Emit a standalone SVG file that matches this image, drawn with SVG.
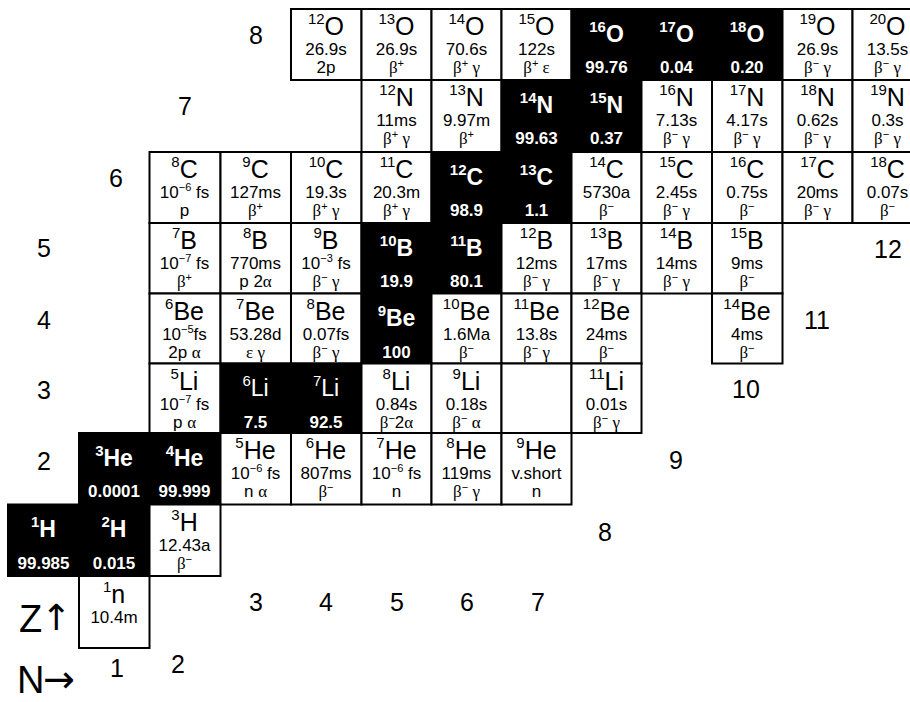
<svg xmlns="http://www.w3.org/2000/svg" width="910" height="702" viewBox="0 0 910 702">
<style>
text{font-family:"Liberation Sans",Arial,sans-serif;text-anchor:middle;fill:#000}
rect.c{fill:#fff;stroke:#000;stroke-width:2}
rect.k{fill:#000;stroke:#000;stroke-width:2}
.s{font-size:25px}
.sw{font-size:23px;font-weight:bold;fill:#fff}
.sn{font-weight:normal}
.sp{font-size:15px}
.h{font-size:17px}
.d{font-size:17px}
.g{font-family:"Liberation Serif","Times New Roman",serif;font-size:17px}
.e{font-size:11px}
.a{font-size:17px;font-weight:bold;fill:#fff}
.l{font-size:25px}
.big{font-size:38px;text-anchor:start}
.arr{font-family:"DejaVu Sans",sans-serif;text-anchor:start}
</style>
<rect width="910" height="702" fill="#fff"/>
<g id="cells">
<!-- Z=8 -->
<g id="O12" transform="translate(291,9)"><rect class="c" width="70.5" height="71"/><text class="s" x="35" y="26"><tspan class="sp" dy="-11">12</tspan><tspan dy="11">O</tspan></text><text class="h" x="35" y="46">26.9s</text><text class="d" x="35" y="64">2p</text></g>
<g id="O13" transform="translate(361.5,9)"><rect class="c" width="70" height="71"/><text class="s" x="35" y="26"><tspan class="sp" dy="-11">13</tspan><tspan dy="11">O</tspan></text><text class="h" x="35" y="46">26.9s</text><text class="d" x="35" y="64"><tspan class="g">β</tspan><tspan class="e" dy="-6">+</tspan></text></g>
<g id="O14" transform="translate(431.5,9)"><rect class="c" width="70" height="71"/><text class="s" x="35" y="26"><tspan class="sp" dy="-11">14</tspan><tspan dy="11">O</tspan></text><text class="h" x="35" y="46">70.6s</text><text class="d" x="35" y="64"><tspan class="g">β</tspan><tspan class="e" dy="-6">+</tspan><tspan class="g" dy="6"> γ</tspan></text></g>
<g id="O15" transform="translate(501.5,9)"><rect class="c" width="70" height="71"/><text class="s" x="35" y="26"><tspan class="sp" dy="-11">15</tspan><tspan dy="11">O</tspan></text><text class="h" x="35" y="46">122s</text><text class="d" x="35" y="64"><tspan class="g">β</tspan><tspan class="e" dy="-6">+</tspan><tspan class="g" dy="6"> ε</tspan></text></g>
<g id="O16" transform="translate(571.5,9)"><rect class="k" width="70" height="71"/><text class="sw" x="35" y="32.5"><tspan class="sp" dy="-10">16</tspan><tspan dy="10">O</tspan></text><text class="a" x="35" y="64">99.76</text></g>
<g id="O17" transform="translate(641.5,9)"><rect class="k" width="70.5" height="71"/><text class="sw" x="35" y="32.5"><tspan class="sp" dy="-10">17</tspan><tspan dy="10">O</tspan></text><text class="a" x="35" y="64">0.04</text></g>
<g id="O18" transform="translate(712,9)"><rect class="k" width="70.5" height="71"/><text class="sw" x="35" y="32.5"><tspan class="sp" dy="-10">18</tspan><tspan dy="10">O</tspan></text><text class="a" x="35" y="64">0.20</text></g>
<g id="O19" transform="translate(782.5,9)"><rect class="c" width="70" height="71"/><text class="s" x="35" y="26"><tspan class="sp" dy="-11">19</tspan><tspan dy="11">O</tspan></text><text class="h" x="35" y="46">26.9s</text><text class="d" x="35" y="64"><tspan class="g">β</tspan><tspan class="e" dy="-6">−</tspan><tspan class="g" dy="6"> γ</tspan></text></g>
<g id="O20" transform="translate(852.5,9)"><rect class="c" width="70.5" height="71"/><text class="s" x="35" y="26"><tspan class="sp" dy="-11">20</tspan><tspan dy="11">O</tspan></text><text class="h" x="35" y="46">13.5s</text><text class="d" x="35" y="64"><tspan class="g">β</tspan><tspan class="e" dy="-6">−</tspan><tspan class="g" dy="6"> γ</tspan></text></g>
<!-- Z=7 -->
<g id="N12" transform="translate(361.5,80)"><rect class="c" width="70" height="72"/><text class="s" x="35" y="26"><tspan class="sp" dy="-11">12</tspan><tspan dy="11">N</tspan></text><text class="h" x="35" y="46">11ms</text><text class="d" x="35" y="64"><tspan class="g">β</tspan><tspan class="e" dy="-6">+</tspan><tspan class="g" dy="6"> γ</tspan></text></g>
<g id="N13" transform="translate(431.5,80)"><rect class="c" width="70" height="72"/><text class="s" x="35" y="26"><tspan class="sp" dy="-11">13</tspan><tspan dy="11">N</tspan></text><text class="h" x="35" y="46">9.97m</text><text class="d" x="35" y="64"><tspan class="g">β</tspan><tspan class="e" dy="-6">+</tspan></text></g>
<g id="N14" transform="translate(501.5,80)"><rect class="k" width="70" height="72"/><text class="sw" x="35" y="32.5"><tspan class="sp" dy="-10">14</tspan><tspan dy="10">N</tspan></text><text class="a" x="35" y="64">99.63</text></g>
<g id="N15" transform="translate(571.5,80)"><rect class="k" width="70" height="72"/><text class="sw" x="35" y="32.5"><tspan class="sp" dy="-10">15</tspan><tspan dy="10">N</tspan></text><text class="a" x="35" y="64">0.37</text></g>
<g id="N16" transform="translate(641.5,80)"><rect class="c" width="70.5" height="72"/><text class="s" x="35" y="26"><tspan class="sp" dy="-11">16</tspan><tspan dy="11">N</tspan></text><text class="h" x="35" y="46">7.13s</text><text class="d" x="35" y="64"><tspan class="g">β</tspan><tspan class="e" dy="-6">−</tspan><tspan class="g" dy="6"> γ</tspan></text></g>
<g id="N17" transform="translate(712,80)"><rect class="c" width="70.5" height="72"/><text class="s" x="35" y="26"><tspan class="sp" dy="-11">17</tspan><tspan dy="11">N</tspan></text><text class="h" x="35" y="46">4.17s</text><text class="d" x="35" y="64"><tspan class="g">β</tspan><tspan class="e" dy="-6">−</tspan><tspan class="g" dy="6"> γ</tspan></text></g>
<g id="N18" transform="translate(782.5,80)"><rect class="c" width="70" height="72"/><text class="s" x="35" y="26"><tspan class="sp" dy="-11">18</tspan><tspan dy="11">N</tspan></text><text class="h" x="35" y="46">0.62s</text><text class="d" x="35" y="64"><tspan class="g">β</tspan><tspan class="e" dy="-6">−</tspan><tspan class="g" dy="6"> γ</tspan></text></g>
<g id="N19" transform="translate(852.5,80)"><rect class="c" width="70.5" height="72"/><text class="s" x="35" y="26"><tspan class="sp" dy="-11">19</tspan><tspan dy="11">N</tspan></text><text class="h" x="35" y="46">0.3s</text><text class="d" x="35" y="64"><tspan class="g">β</tspan><tspan class="e" dy="-6">−</tspan><tspan class="g" dy="6"> γ</tspan></text></g>
<!-- Z=6 -->
<g id="C8" transform="translate(149.5,152)"><rect class="c" width="71" height="71"/><text class="s" x="35" y="26"><tspan class="sp" dy="-11">8</tspan><tspan dy="11">C</tspan></text><text class="h" x="35" y="46">10<tspan class="e" dy="-7">−6</tspan><tspan dy="7"> fs</tspan></text><text class="d" x="35" y="64">p</text></g>
<g id="C9" transform="translate(220.5,152)"><rect class="c" width="70.5" height="71"/><text class="s" x="35" y="26"><tspan class="sp" dy="-11">9</tspan><tspan dy="11">C</tspan></text><text class="h" x="35" y="46">127ms</text><text class="d" x="35" y="64"><tspan class="g">β</tspan><tspan class="e" dy="-6">+</tspan></text></g>
<g id="C10" transform="translate(291,152)"><rect class="c" width="70.5" height="71"/><text class="s" x="35" y="26"><tspan class="sp" dy="-11">10</tspan><tspan dy="11">C</tspan></text><text class="h" x="35" y="46">19.3s</text><text class="d" x="35" y="64"><tspan class="g">β</tspan><tspan class="e" dy="-6">+</tspan><tspan class="g" dy="6"> γ</tspan></text></g>
<g id="C11" transform="translate(361.5,152)"><rect class="c" width="70" height="71"/><text class="s" x="35" y="26"><tspan class="sp" dy="-11">11</tspan><tspan dy="11">C</tspan></text><text class="h" x="35" y="46">20.3m</text><text class="d" x="35" y="64"><tspan class="g">β</tspan><tspan class="e" dy="-6">+</tspan><tspan class="g" dy="6"> γ</tspan></text></g>
<g id="C12" transform="translate(431.5,152)"><rect class="k" width="70" height="71"/><text class="sw" x="35" y="32.5"><tspan class="sp" dy="-10">12</tspan><tspan dy="10">C</tspan></text><text class="a" x="35" y="64">98.9</text></g>
<g id="C13" transform="translate(501.5,152)"><rect class="k" width="70" height="71"/><text class="sw" x="35" y="32.5"><tspan class="sp" dy="-10">13</tspan><tspan dy="10">C</tspan></text><text class="a" x="35" y="64">1.1</text></g>
<g id="C14" transform="translate(571.5,152)"><rect class="c" width="70" height="71"/><text class="s" x="35" y="26"><tspan class="sp" dy="-11">14</tspan><tspan dy="11">C</tspan></text><text class="h" x="35" y="46">5730a</text><text class="d" x="35" y="64"><tspan class="g">β</tspan><tspan class="e" dy="-6">−</tspan></text></g>
<g id="C15" transform="translate(641.5,152)"><rect class="c" width="70.5" height="71"/><text class="s" x="35" y="26"><tspan class="sp" dy="-11">15</tspan><tspan dy="11">C</tspan></text><text class="h" x="35" y="46">2.45s</text><text class="d" x="35" y="64"><tspan class="g">β</tspan><tspan class="e" dy="-6">−</tspan><tspan class="g" dy="6"> γ</tspan></text></g>
<g id="C16" transform="translate(712,152)"><rect class="c" width="70.5" height="71"/><text class="s" x="35" y="26"><tspan class="sp" dy="-11">16</tspan><tspan dy="11">C</tspan></text><text class="h" x="35" y="46">0.75s</text><text class="d" x="35" y="64"><tspan class="g">β</tspan><tspan class="e" dy="-6">−</tspan></text></g>
<g id="C17" transform="translate(782.5,152)"><rect class="c" width="70" height="71"/><text class="s" x="35" y="26"><tspan class="sp" dy="-11">17</tspan><tspan dy="11">C</tspan></text><text class="h" x="35" y="46">20ms</text><text class="d" x="35" y="64"><tspan class="g">β</tspan><tspan class="e" dy="-6">−</tspan><tspan class="g" dy="6"> γ</tspan></text></g>
<g id="C18" transform="translate(852.5,152)"><rect class="c" width="70.5" height="71"/><text class="s" x="35" y="26"><tspan class="sp" dy="-11">18</tspan><tspan dy="11">C</tspan></text><text class="h" x="35" y="46">0.07s</text><text class="d" x="35" y="64"><tspan class="g">β</tspan><tspan class="e" dy="-6">−</tspan></text></g>
<!-- Z=5 -->
<g id="B7" transform="translate(149.5,223)"><rect class="c" width="71" height="70.5"/><text class="s" x="35" y="26"><tspan class="sp" dy="-11">7</tspan><tspan dy="11">B</tspan></text><text class="h" x="35" y="46">10<tspan class="e" dy="-7">−7</tspan><tspan dy="7"> fs</tspan></text><text class="d" x="35" y="64"><tspan class="g">β</tspan><tspan class="e" dy="-6">+</tspan></text></g>
<g id="B8" transform="translate(220.5,223)"><rect class="c" width="70.5" height="70.5"/><text class="s" x="35" y="26"><tspan class="sp" dy="-11">8</tspan><tspan dy="11">B</tspan></text><text class="h" x="35" y="46">770ms</text><text class="d" x="35" y="64">p 2<tspan class="g">α</tspan></text></g>
<g id="B9" transform="translate(291,223)"><rect class="c" width="70.5" height="70.5"/><text class="s" x="35" y="26"><tspan class="sp" dy="-11">9</tspan><tspan dy="11">B</tspan></text><text class="h" x="35" y="46">10<tspan class="e" dy="-7">−3</tspan><tspan dy="7"> fs</tspan></text><text class="d" x="35" y="64"><tspan class="g">β</tspan><tspan class="e" dy="-6">−</tspan><tspan class="g" dy="6"> γ</tspan></text></g>
<g id="B10" transform="translate(361.5,223)"><rect class="k" width="70" height="70.5"/><text class="sw" x="35" y="32.5"><tspan class="sp" dy="-10">10</tspan><tspan dy="10">B</tspan></text><text class="a" x="35" y="64">19.9</text></g>
<g id="B11" transform="translate(431.5,223)"><rect class="k" width="70" height="70.5"/><text class="sw" x="35" y="32.5"><tspan class="sp" dy="-10">11</tspan><tspan dy="10">B</tspan></text><text class="a" x="35" y="64">80.1</text></g>
<g id="B12" transform="translate(501.5,223)"><rect class="c" width="70" height="70.5"/><text class="s" x="35" y="26"><tspan class="sp" dy="-11">12</tspan><tspan dy="11">B</tspan></text><text class="h" x="35" y="46">12ms</text><text class="d" x="35" y="64"><tspan class="g">β</tspan><tspan class="e" dy="-6">−</tspan><tspan class="g" dy="6"> γ</tspan></text></g>
<g id="B13" transform="translate(571.5,223)"><rect class="c" width="70" height="70.5"/><text class="s" x="35" y="26"><tspan class="sp" dy="-11">13</tspan><tspan dy="11">B</tspan></text><text class="h" x="35" y="46">17ms</text><text class="d" x="35" y="64"><tspan class="g">β</tspan><tspan class="e" dy="-6">−</tspan><tspan class="g" dy="6"> γ</tspan></text></g>
<g id="B14" transform="translate(641.5,223)"><rect class="c" width="70.5" height="70.5"/><text class="s" x="35" y="26"><tspan class="sp" dy="-11">14</tspan><tspan dy="11">B</tspan></text><text class="h" x="35" y="46">14ms</text><text class="d" x="35" y="64"><tspan class="g">β</tspan><tspan class="e" dy="-6">−</tspan><tspan class="g" dy="6"> γ</tspan></text></g>
<g id="B15" transform="translate(712,223)"><rect class="c" width="70.5" height="70.5"/><text class="s" x="35" y="26"><tspan class="sp" dy="-11">15</tspan><tspan dy="11">B</tspan></text><text class="h" x="35" y="46">9ms</text><text class="d" x="35" y="64"><tspan class="g">β</tspan><tspan class="e" dy="-6">−</tspan></text></g>
<!-- Z=4 -->
<g id="Be6" transform="translate(149.5,293.5)"><rect class="c" width="71" height="70"/><text class="s" x="35" y="26"><tspan class="sp" dy="-11">6</tspan><tspan dy="11">Be</tspan></text><text class="h" x="35" y="46">10<tspan class="e" dy="-7">−5</tspan><tspan dy="7">fs</tspan></text><text class="d" x="35" y="64">2p <tspan class="g">α</tspan></text></g>
<g id="Be7" transform="translate(220.5,293.5)"><rect class="c" width="70.5" height="70"/><text class="s" x="35" y="26"><tspan class="sp" dy="-11">7</tspan><tspan dy="11">Be</tspan></text><text class="h" x="35" y="46">53.28d</text><text class="d" x="35" y="64"><tspan class="g">ε γ</tspan></text></g>
<g id="Be8" transform="translate(291,293.5)"><rect class="c" width="70.5" height="70"/><text class="s" x="35" y="26"><tspan class="sp" dy="-11">8</tspan><tspan dy="11">Be</tspan></text><text class="h" x="35" y="46">0.07fs</text><text class="d" x="35" y="64"><tspan class="g">β</tspan><tspan class="e" dy="-6">−</tspan><tspan class="g" dy="6"> γ</tspan></text></g>
<g id="Be9" transform="translate(361.5,293.5)"><rect class="k" width="70" height="70"/><text class="sw" x="35" y="32.5"><tspan class="sp" dy="-10">9</tspan><tspan dy="10">Be</tspan></text><text class="a" x="35" y="64">100</text></g>
<g id="Be10" transform="translate(431.5,293.5)"><rect class="c" width="70" height="70"/><text class="s" x="35" y="26"><tspan class="sp" dy="-11">10</tspan><tspan dy="11">Be</tspan></text><text class="h" x="35" y="46">1.6Ma</text><text class="d" x="35" y="64"><tspan class="g">β</tspan><tspan class="e" dy="-6">−</tspan></text></g>
<g id="Be11" transform="translate(501.5,293.5)"><rect class="c" width="70" height="70"/><text class="s" x="35" y="26"><tspan class="sp" dy="-11">11</tspan><tspan dy="11">Be</tspan></text><text class="h" x="35" y="46">13.8s</text><text class="d" x="35" y="64"><tspan class="g">β</tspan><tspan class="e" dy="-6">−</tspan><tspan class="g" dy="6"> γ</tspan></text></g>
<g id="Be12" transform="translate(571.5,293.5)"><rect class="c" width="70" height="70"/><text class="s" x="35" y="26"><tspan class="sp" dy="-11">12</tspan><tspan dy="11">Be</tspan></text><text class="h" x="35" y="46">24ms</text><text class="d" x="35" y="64"><tspan class="g">β</tspan><tspan class="e" dy="-6">−</tspan></text></g>
<g id="Be14" transform="translate(712,293.5)"><rect class="c" width="70.5" height="70"/><text class="s" x="35" y="26"><tspan class="sp" dy="-11">14</tspan><tspan dy="11">Be</tspan></text><text class="h" x="35" y="46">4ms</text><text class="d" x="35" y="64"><tspan class="g">β</tspan><tspan class="e" dy="-6">−</tspan></text></g>
<!-- Z=3 -->
<g id="Li5" transform="translate(149.5,363.5)"><rect class="c" width="71" height="69.5"/><text class="s" x="35" y="26"><tspan class="sp" dy="-11">5</tspan><tspan dy="11">Li</tspan></text><text class="h" x="35" y="46">10<tspan class="e" dy="-7">−7</tspan><tspan dy="7"> fs</tspan></text><text class="d" x="35" y="64">p <tspan class="g">α</tspan></text></g>
<g id="Li6" transform="translate(220.5,363.5)"><rect class="k" width="70.5" height="69.5"/><text class="sw sn" x="35" y="32.5"><tspan class="sp" dy="-10">6</tspan><tspan dy="10">Li</tspan></text><text class="a" x="35" y="64">7.5</text></g>
<g id="Li7" transform="translate(291,363.5)"><rect class="k" width="70.5" height="69.5"/><text class="sw sn" x="35" y="32.5"><tspan class="sp" dy="-10">7</tspan><tspan dy="10">Li</tspan></text><text class="a" x="35" y="64">92.5</text></g>
<g id="Li8" transform="translate(361.5,363.5)"><rect class="c" width="70" height="69.5"/><text class="s" x="35" y="26"><tspan class="sp" dy="-11">8</tspan><tspan dy="11">Li</tspan></text><text class="h" x="35" y="46">0.84s</text><text class="d" x="35" y="64"><tspan class="g">β</tspan><tspan class="e" dy="-6">−</tspan><tspan dy="6">2</tspan><tspan class="g">α</tspan></text></g>
<g id="Li9" transform="translate(431.5,363.5)"><rect class="c" width="70" height="69.5"/><text class="s" x="35" y="26"><tspan class="sp" dy="-11">9</tspan><tspan dy="11">Li</tspan></text><text class="h" x="35" y="46">0.18s</text><text class="d" x="35" y="64"><tspan class="g">β</tspan><tspan class="e" dy="-6">−</tspan><tspan class="g" dy="6"> α</tspan></text></g>
<g id="Li10" transform="translate(501.5,363.5)"><rect class="c" width="70" height="69.5"/></g>
<g id="Li11" transform="translate(571.5,363.5)"><rect class="c" width="70" height="69.5"/><text class="s" x="35" y="26"><tspan class="sp" dy="-11">11</tspan><tspan dy="11">Li</tspan></text><text class="h" x="35" y="46">0.01s</text><text class="d" x="35" y="64"><tspan class="g">β</tspan><tspan class="e" dy="-6">−</tspan><tspan class="g" dy="6"> γ</tspan></text></g>
<!-- Z=2 -->
<g id="He3" transform="translate(79,433)"><rect class="k" width="70.5" height="71.5"/><text class="sw" x="35" y="32.5"><tspan class="sp" dy="-10">3</tspan><tspan dy="10">He</tspan></text><text class="a" x="35" y="64">0.0001</text></g>
<g id="He4" transform="translate(149.5,433)"><rect class="k" width="71" height="71.5"/><text class="sw" x="35" y="32.5"><tspan class="sp" dy="-10">4</tspan><tspan dy="10">He</tspan></text><text class="a" x="35" y="64">99.999</text></g>
<g id="He5" transform="translate(220.5,433)"><rect class="c" width="70.5" height="71.5"/><text class="s" x="35" y="26"><tspan class="sp" dy="-11">5</tspan><tspan dy="11">He</tspan></text><text class="h" x="35" y="46">10<tspan class="e" dy="-7">−6</tspan><tspan dy="7"> fs</tspan></text><text class="d" x="35" y="64">n <tspan class="g">α</tspan></text></g>
<g id="He6" transform="translate(291,433)"><rect class="c" width="70.5" height="71.5"/><text class="s" x="35" y="26"><tspan class="sp" dy="-11">6</tspan><tspan dy="11">He</tspan></text><text class="h" x="35" y="46">807ms</text><text class="d" x="35" y="64"><tspan class="g">β</tspan><tspan class="e" dy="-6">−</tspan></text></g>
<g id="He7" transform="translate(361.5,433)"><rect class="c" width="70" height="71.5"/><text class="s" x="35" y="26"><tspan class="sp" dy="-11">7</tspan><tspan dy="11">He</tspan></text><text class="h" x="35" y="46">10<tspan class="e" dy="-7">−6</tspan><tspan dy="7"> fs</tspan></text><text class="d" x="35" y="64">n</text></g>
<g id="He8" transform="translate(431.5,433)"><rect class="c" width="70" height="71.5"/><text class="s" x="35" y="26"><tspan class="sp" dy="-11">8</tspan><tspan dy="11">He</tspan></text><text class="h" x="35" y="46">119ms</text><text class="d" x="35" y="64"><tspan class="g">β</tspan><tspan class="e" dy="-6">−</tspan><tspan class="g" dy="6"> γ</tspan></text></g>
<g id="He9" transform="translate(501.5,433)"><rect class="c" width="70" height="71.5"/><text class="s" x="35" y="26"><tspan class="sp" dy="-11">9</tspan><tspan dy="11">He</tspan></text><text class="h" x="35" y="46">v.short</text><text class="d" x="35" y="64">n</text></g>
<!-- Z=1 -->
<g id="H1" transform="translate(8,504.5)"><rect class="k" width="71" height="71.5"/><text class="sw" x="35.5" y="32.5"><tspan class="sp" dy="-10">1</tspan><tspan dy="10">H</tspan></text><text class="a" x="35.5" y="64">99.985</text></g>
<g id="H2" transform="translate(79,504.5)"><rect class="k" width="70.5" height="71.5"/><text class="sw" x="35" y="32.5"><tspan class="sp" dy="-10">2</tspan><tspan dy="10">H</tspan></text><text class="a" x="35" y="64">0.015</text></g>
<g id="H3" transform="translate(149.5,504.5)"><rect class="c" width="71" height="71.5"/><text class="s" x="35" y="26"><tspan class="sp" dy="-11">3</tspan><tspan dy="11">H</tspan></text><text class="h" x="35" y="46">12.43a</text><text class="d" x="35" y="64"><tspan class="g">β</tspan><tspan class="e" dy="-6">−</tspan></text></g>
<!-- Z=0 -->
<g id="n1" transform="translate(79,576)"><rect class="c" width="70.5" height="72"/><text class="s" x="35" y="27"><tspan class="sp" dy="-11">1</tspan><tspan dy="11">n</tspan></text><text class="h" x="35" y="47">10.4m</text></g>
</g>
<g id="labels">
<text class="l" x="44" y="470">2</text>
<text class="l" x="44" y="399">3</text>
<text class="l" x="44" y="329">4</text>
<text class="l" x="44" y="257">5</text>
<text class="l" x="116" y="187">6</text>
<text class="l" x="185" y="115">7</text>
<text class="l" x="256" y="44">8</text>
<text class="l" x="117" y="677">1</text>
<text class="l" x="178" y="673">2</text>
<text class="l" x="256" y="611">3</text>
<text class="l" x="326" y="611">4</text>
<text class="l" x="397" y="611">5</text>
<text class="l" x="467" y="611">6</text>
<text class="l" x="538" y="611">7</text>
<text class="l" x="605" y="541">8</text>
<text class="l" x="676" y="469">9</text>
<text class="l" x="746" y="398">10</text>
<text class="l" x="817" y="329">11</text>
<text class="l" x="888" y="258">12</text>
<text class="big" x="19" y="632">Z</text>
<text class="arr" x="41" y="630" font-size="36">↑</text>
<text class="big" x="17" y="693">N</text>
<text class="arr" x="43" y="692" font-size="38">→</text>
</g>
</svg>
